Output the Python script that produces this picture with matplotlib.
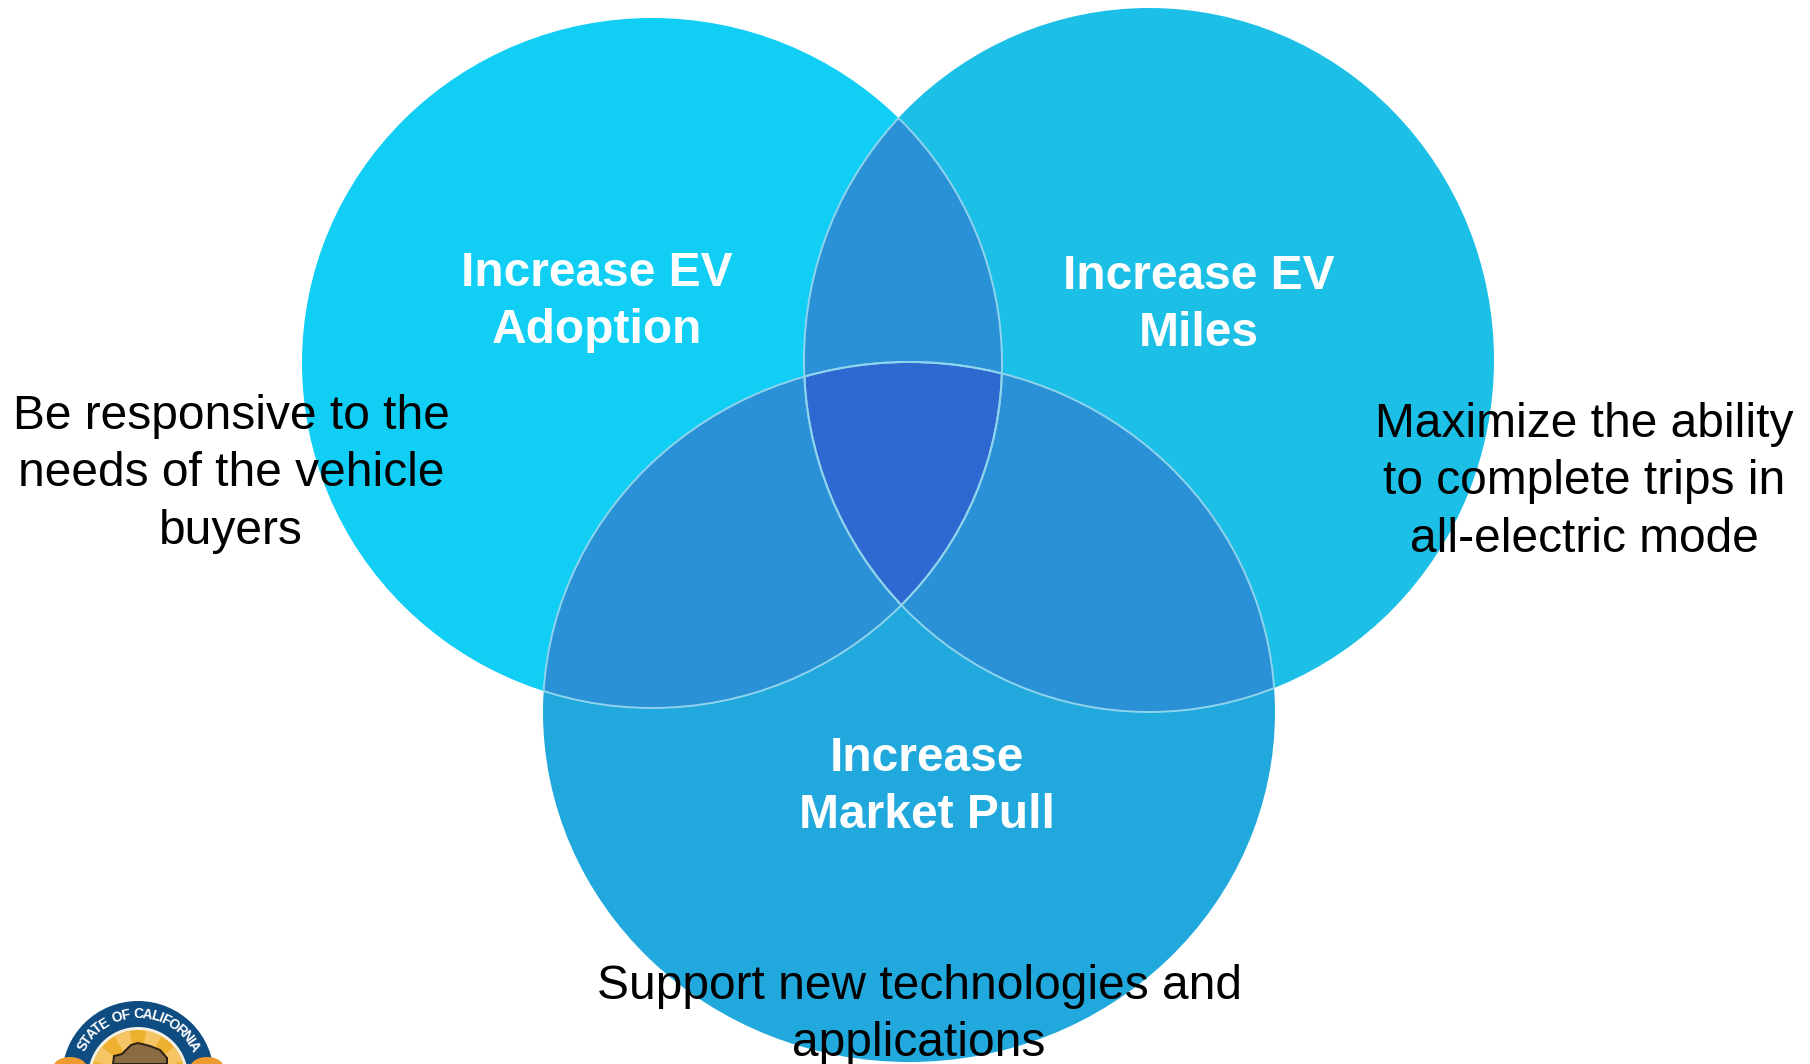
"""Three circle venn diagram"""

import matplotlib
matplotlib.use('Agg')
import matplotlib.pyplot as plt
from matplotlib.font_manager import FontProperties
from matplotlib.patches import Ellipse, Circle, Polygon, Wedge
import numpy as np

plt.rcParams['font.family'] = ['Liberation Sans', 'DejaVu Sans']

circleLabels = ['Increase EV\nAdoption', 'Increase EV\nMiles', 'Increase\nMarket Pull']
circleColors = ['#10CEF4', '#1CBFE6', '#21A8DC']
goalLabels = ['Be responsive to the\nneeds of the vehicle\nbuyers',
              'Maximize the ability\nto complete trips in\nall-electric mode',
              'Support new technologies and\napplications']
sealText = 'STATE OF CALIFORNIA'

PAIR_COLOR = '#2B91D6'
MIDDLE_COLOR = '#2D69D0'
EDGE_COLOR = '#8FD3EC'

# center x, center y, width, height in pixels
shapes = [(652, 363, 700, 690), (1149, 360, 690, 704), (909, 712, 732, 700)]
labelPos = [(597, 302), (1199, 305), (927, 787)]
goalPos = [(231, 474), (1584, 482), (919, 1015)]

fig = plt.figure(figsize=(18.1, 10.64), dpi=100)
ax = fig.add_axes([0, 0, 1, 1])
ax.set_xlim(0, 1810)
ax.set_ylim(1064, 0)
ax.axis('off')


def makeShape(i, **kw):
    x, y, w, h = shapes[i]
    return Ellipse((x, y), w, h, **kw)


def clipped(i, other, zorder, **kw):
    """Draw shape i, cut to shape other"""
    patch = makeShape(i, zorder=zorder, **kw)
    ax.add_patch(patch)
    patch.set_clip_path(makeShape(other, transform=ax.transData))
    return patch


def outline(i):
    x, y, w, h = shapes[i]
    tt = np.linspace(0, 2 * np.pi, 1440)
    return x + w / 2 * np.cos(tt), y + h / 2 * np.sin(tt)


def inside(xs, ys, i):
    x, y, w, h = shapes[i]
    return ((xs - x) / (w / 2)) ** 2 + ((ys - y) / (h / 2)) ** 2 <= 1


for i in range(3):
    ax.add_patch(makeShape(i, facecolor=circleColors[i], edgecolor='none', zorder=1))

# overlaps
for a, b in [(0, 1), (0, 2), (1, 2)]:
    clipped(a, b, 2, facecolor=PAIR_COLOR, edgecolor='none')

# the middle piece: lens of A and B as a polygon, clipped by C
xa, ya = outline(0)
xb, yb = outline(1)
keepA = inside(xa, ya, 1)
keepB = inside(xb, yb, 0)
lens = np.column_stack([np.concatenate([xa[keepA], xb[keepB]]),
                        np.concatenate([ya[keepA], yb[keepB]])])
mid = lens.mean(axis=0)
lens = lens[np.argsort(np.arctan2(lens[:, 1] - mid[1], lens[:, 0] - mid[0]))]
middle = Polygon(lens, closed=True, facecolor=MIDDLE_COLOR, edgecolor='none', zorder=3)
ax.add_patch(middle)
middle.set_clip_path(makeShape(2, transform=ax.transData))

# light edges, only where a circle runs inside another one
for a, b in [(0, 1), (0, 2), (1, 0), (1, 2), (2, 0), (2, 1)]:
    clipped(a, b, 4, facecolor='none', edgecolor=EDGE_COLOR, linewidth=1.4)

for i, txt in enumerate(circleLabels):
    ax.text(labelPos[i][0], labelPos[i][1], txt, color='white', fontsize=34.5, fontweight='bold',
            ha='center', va='center', linespacing=1.37, zorder=6)

for i, txt in enumerate(goalLabels):
    ax.text(goalPos[i][0], goalPos[i][1], txt, color='black', fontsize=34.5,
            ha='center', va='center', linespacing=1.37, zorder=6)

# state seal, cut by the bottom of the picture
sx, sy = 138, 1077
for cx in [70, 207]:
    ax.add_patch(Ellipse((cx, 1068), 34, 22, facecolor='#EE9A2E', edgecolor='none', zorder=9))
ax.add_patch(Circle((sx, sy), 76, facecolor='#0F4C81', edgecolor='none', zorder=8))
ax.add_patch(Circle((sx, sy), 50, facecolor='#F4F1E4', edgecolor='none', zorder=10))
ax.add_patch(Circle((sx, sy), 47, facecolor='#EDB02F', edgecolor='none', zorder=11))
for ang in range(200, 360, 40):
    ax.add_patch(Wedge((sx, sy), 47, ang, ang + 20, facecolor='#F5C566', edgecolor='none', zorder=12))
ax.add_patch(Polygon([(113, 1064), (114, 1056), (122, 1054), (131, 1045), (138, 1043),
                      (150, 1046), (160, 1050), (167, 1058), (167, 1064)],
                     facecolor='#8A6B42', edgecolor='#2A2015', linewidth=1.4, zorder=13))

# seal lettering spaced by real glyph widths along the arc
renderer = fig.canvas.get_renderer()
prop = FontProperties(family='Liberation Sans', size=10, weight='bold')
widths = []
for ch in sealText:
    w = renderer.get_text_width_height_descent(ch, prop, False)[0] if ch != ' ' else 6.0
    widths.append(w + 1.2)
widths = np.array(widths)
centers = np.cumsum(widths) - widths / 2
angles = -61 + 122 * (centers - centers[0]) / (centers[-1] - centers[0])
for ch, ang in zip(sealText, angles):
    rad = np.deg2rad(ang)
    ax.text(sx + 63 * np.sin(rad), sy - 63 * np.cos(rad), ch, color='white', fontproperties=prop,
            ha='center', va='center', rotation=-ang, rotation_mode='anchor', zorder=14)

fig.savefig('out.png', dpi=100, facecolor='white')
